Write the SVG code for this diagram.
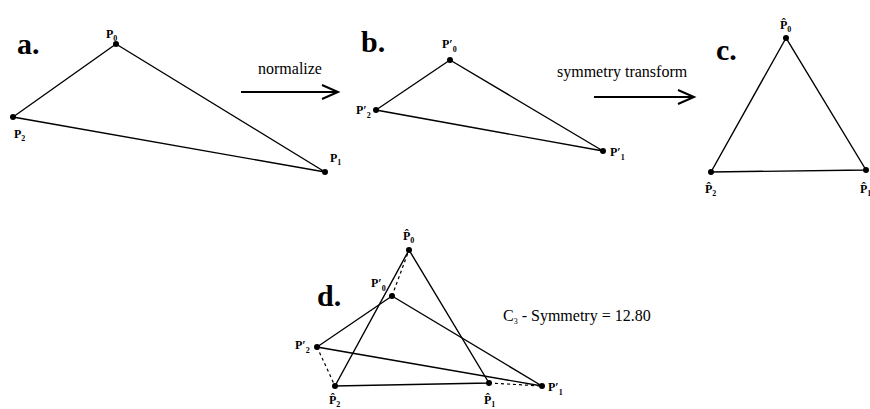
<svg xmlns="http://www.w3.org/2000/svg" width="870" height="409" viewBox="0 0 870 409">
<style>
.e{stroke:#000;stroke-width:1.4;fill:none}
.d{stroke:#000;stroke-width:1.2;fill:none;stroke-dasharray:3,3}
.pt{fill:#000}
.big{font-family:"Liberation Serif",serif;font-weight:bold;font-size:30px}
.lb{font-family:"Liberation Serif",serif;font-weight:bold;font-size:12px}
.sb{font-size:8px}
.tx{font-family:"Liberation Serif",serif;font-size:16px}
.ar{stroke:#000;stroke-width:2;fill:none}
</style>
<rect width="870" height="409" fill="#fff"/>
<g id="connectors">
<path class="e" d="M116,44 L13,117 L325,172 Z"/>
<path class="e" d="M450,60 L376,110 L603,151 Z"/>
<path class="e" d="M786,38 L711,172 L866,170 Z"/>
<path class="e" d="M409,250 L335,386 L489,383 Z"/>
<path class="e" d="M392,296 L317,347 L542,386 Z"/>
<path class="d" d="M392,296 L409,250 M317,347 L335,386 M489,383 L542,386"/>
<path class="ar" d="M241,92 L338,92 M322,85 L338,92 L322,99"/>
<path class="ar" d="M594,97 L694,97 M678,90 L694,97 L678,104"/>
</g>
<g id="a">
<text class="big" x="17" y="54">a.</text>
<circle class="pt" cx="116" cy="44" r="3"/><circle class="pt" cx="13" cy="117" r="3"/><circle class="pt" cx="325" cy="172" r="3"/>
<text class="lb" x="106" y="38">P<tspan class="sb" dy="3">0</tspan></text>
<text class="lb" x="14" y="138">P<tspan class="sb" dy="3">2</tspan></text>
<text class="lb" x="330" y="162">P<tspan class="sb" dy="3">1</tspan></text>
<text class="tx" x="258" y="74">normalize</text>
</g>
<g id="b">
<text class="big" x="361" y="52">b.</text>
<circle class="pt" cx="450" cy="60" r="3"/><circle class="pt" cx="376" cy="110" r="3"/><circle class="pt" cx="603" cy="151" r="3"/>
<text class="lb" x="442" y="48">P′<tspan class="sb" dy="4">0</tspan></text>
<text class="lb" x="356" y="114">P′<tspan class="sb" dy="4">2</tspan></text>
<text class="lb" x="610" y="156">P′<tspan class="sb" dy="4">1</tspan></text>
<text class="tx" x="557" y="77">symmetry transform</text>
</g>
<g id="c">
<text class="big" x="716" y="60">c.</text>
<circle class="pt" cx="786" cy="38" r="3"/><circle class="pt" cx="711" cy="172" r="3"/><circle class="pt" cx="866" cy="170" r="3"/>
<text class="lb" x="780" y="29">P̂<tspan class="sb" dy="3">0</tspan></text>
<text class="lb" x="705" y="193">P̂<tspan class="sb" dy="3">2</tspan></text>
<text class="lb" x="860" y="193">P̂<tspan class="sb" dy="3">1</tspan></text>
</g>
<g id="d">
<text class="big" x="317" y="306">d.</text>
<circle class="pt" cx="409" cy="250" r="3"/><circle class="pt" cx="392" cy="296" r="3"/><circle class="pt" cx="317" cy="347" r="3"/><circle class="pt" cx="335" cy="386" r="3"/><circle class="pt" cx="489" cy="383" r="3"/><circle class="pt" cx="542" cy="386" r="3"/>
<text class="lb" x="403" y="240">P̂<tspan class="sb" dy="3">0</tspan></text>
<text class="lb" x="371" y="287">P′<tspan class="sb" dy="4">0</tspan></text>
<text class="lb" x="295" y="349">P′<tspan class="sb" dy="4">2</tspan></text>
<text class="lb" x="329" y="404">P̂<tspan class="sb" dy="3">2</tspan></text>
<text class="lb" x="484" y="404">P̂<tspan class="sb" dy="3">1</tspan></text>
<text class="lb" x="548" y="391">P′<tspan class="sb" dy="4">1</tspan></text>
<text class="tx" x="503" y="321">C<tspan class="sb" font-size="10" dy="3">3</tspan><tspan dy="-3"> - Symmetry = 12.80</tspan></text>
</g>
</svg>
